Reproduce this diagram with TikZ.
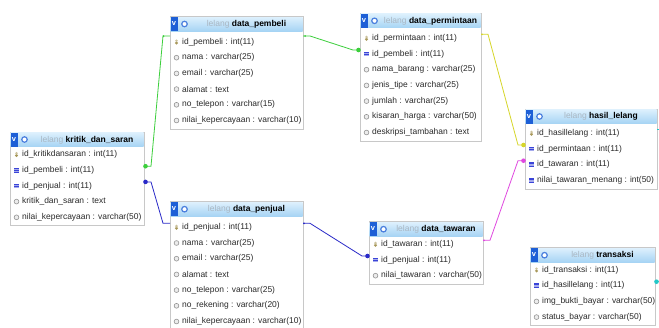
\documentclass[tikz,border=0pt]{standalone}
\usepackage{fontspec}
\setmainfont{Liberation Sans}
\usetikzlibrary{calc}
\definecolor{boxline}{HTML}{C8C8C8}
\definecolor{hdrtop}{HTML}{DDF0FD}
\definecolor{hdrbot}{HTML}{A6D4F4}
\definecolor{vblue}{HTML}{1D5FD6}
\definecolor{lelanggray}{HTML}{A9B6C2}
\definecolor{rowtxt}{HTML}{2A2A2A}
\definecolor{keyol}{HTML}{A8985A}
\definecolor{fkblue}{HTML}{3A44D8}
\definecolor{cgreen}{HTML}{3CCF3C}
\definecolor{cblue}{HTML}{2A2AC8}
\definecolor{cyellow}{HTML}{D6D62A}
\definecolor{cmagenta}{HTML}{E048E0}
\definecolor{ccyan}{HTML}{22C8C8}
\tikzset{
  rowtext/.style={anchor=west,inner sep=0pt,text=rowtxt,font=\fontsize{8.45}{9.5}\selectfont},
  hdrtext/.style={inner sep=0pt,text=black,font=\fontsize{8.5}{9.5}\selectfont},
  vtext/.style={inner sep=0pt,text=white,font=\bfseries\fontsize{7.5}{8}\selectfont},
  gear/.style={circle,draw=vblue!80,line width=1.2pt,fill=white,minimum size=5.5pt,inner sep=0pt},
  conn/.style={line width=0.8pt},
}
\newcommand\iconpk[2]{\fill[keyol] (#1,#2+0.9) circle (1.6);\fill[keyol!60!white] (#1,#2-1.2) circle (1.4);}
\newcommand\iconfk[2]{\fill[fkblue] (#1-2.3,#2-2.3) rectangle (#1+2.3,#2+2.3);\draw[fkblue!45!white,line width=0.35pt] (#1-2.3,#2-0.7) -- (#1+2.3,#2-0.7) (#1-2.3,#2+0.8) -- (#1+2.3,#2+0.8);}
\newcommand\iconcol[2]{\draw[gray!85,line width=0.6pt,fill=gray!15] (#1,#2) circle (2.4);}
% #1 id, #2 left, #3 right, #4 header top, #5 first row y, #6 nrows, #7 title, #8 rows
\newcommand\dbtab[8]{%
  \pgfmathsetmacro\tbbot{#5+(#6-1)*15.7+8.5}
  \draw[boxline,fill=white,line width=0.7pt] (#2,#4) rectangle (#3,\tbbot);
  \shade[top color=hdrtop,bottom color=hdrbot] (#2+0.5,#4+0.5) rectangle (#3-0.5,#4+14.5);
  \fill[vblue] (#2+0.5,#4+0.5) rectangle (#2+7.5,#4+14.5);
  \node[vtext] (#1-v) at (#2+4,#4+7.3) {v};
  \node[gear] (#1-g) at (#2+14.5,#4+7.5) {};
  \node[hdrtext] (#1-h) at ({(#2+#3)/2+10},#4+7.8) {\textcolor{lelanggray}{lelang} \textbf{#7}};
  \foreach \ic/\tx [count=\i] in {#8} {
    \pgfmathsetmacro\ry{#5+(\i-1)*15.7}
    \csname icon\ic\endcsname{#2+6.5}{\ry}
    \node[rowtext] (#1-\i) at (#2+12,\ry) {\tx};
    \coordinate (#1-\i-l) at (#2,\ry-4);
    \coordinate (#1-\i-r) at (#3,\ry-4);
  }
}
\begin{document}
\begin{tikzpicture}[x=1pt,y=-1pt]
\fill[white] (0,0) rectangle (659,327);
\useasboundingbox (0,0) rectangle (659,327);

\dbtab{ks}{10}{144}{132}{154.5}{5}{kritik\_dan\_saran}{pk/id\_kritikdansaran : int(11), fk/id\_pembeli : int(11), fk/id\_penjual : int(11), col/kritik\_dan\_saran : text, col/nilai\_kepercayaan : varchar(50)}

\dbtab{pb}{170}{303}{16.5}{42}{6}{data\_pembeli}{pk/id\_pembeli : int(11), col/nama : varchar(25), col/email : varchar(25), col/alamat : text, col/no\_telepon : varchar(15), col/nilai\_kepercayaan : varchar(10)}

\dbtab{pm}{360}{481}{13.3}{38.3}{7}{data\_permintaan}{pk/id\_permintaan : int(11), fk/id\_pembeli : int(11), col/nama\_barang : varchar(25), col/jenis\_tipe : varchar(25), col/jumlah : varchar(25), col/kisaran\_harga : varchar(50), col/deskripsi\_tambahan : text}

\dbtab{hl}{525}{657}{109}{133.3}{4}{hasil\_lelang}{pk/id\_hasillelang : int(11), fk/id\_permintaan : int(11), fk/id\_tawaran : int(11), fk/nilai\_tawaran\_menang : int(50)}

\dbtab{pj}{170}{303}{201.7}{227.3}{7}{data\_penjual}{pk/id\_penjual : int(11), col/nama : varchar(25), col/email : varchar(25), col/alamat : text, col/no\_telepon : varchar(25), col/no\_rekening : varchar(20), col/nilai\_kepercayaan : varchar(10)}

\dbtab{tw}{369}{483}{221.7}{244.3}{3}{data\_tawaran}{pk/id\_tawaran : int(11), fk/id\_penjual : int(11), col/nilai\_tawaran : varchar(50)}

\dbtab{tr}{530}{655}{247.7}{270}{4}{transaksi}{pk/id\_transaksi : int(11), fk/id\_hasillelang : int(11), col/img\_bukti\_bayar : varchar(50), col/status\_bayar : varchar(50)}

% connectors
\draw[conn,cgreen] (ks-2-r) -- ++(7,0) -- ($(pb-1-l)+(-7,-2)$) -- ($(pb-1-l)+(0,-2)$);
\fill[cgreen] ($(ks-2-r)+(1.5,0)$) circle (2.3);
\fill[cgreen] ($(pb-1-l)+(-6.5,-2)$) circle (1);

\draw[conn,cgreen] ($(pb-1-r)+(0,-2)$) -- ++(7,0) -- ($(pm-2-l)+(-7,0)$) -- (pm-2-l);
\fill[cgreen] ($(pb-1-r)+(2,-2)$) circle (1);
\fill[cgreen] ($(pm-2-l)+(-1.5,0)$) circle (2.3);

\draw[conn,cblue] (ks-3-r) -- ++(7,0) -- ($(pj-1-l)+(-7,0)$) -- (pj-1-l);
\fill[cblue] ($(ks-3-r)+(1.5,0)$) circle (2.3);

\draw[conn,cblue] (pj-1-r) -- ++(7,0) -- ($(tw-2-l)+(-7,0)$) -- (tw-2-l);
\fill[cblue] ($(pj-1-r)+(1,0)$) circle (1);
\fill[cblue] ($(tw-2-l)+(-1.5,0)$) circle (2.3);

\draw[conn,cyellow] (pm-1-r) -- ++(7,0) -- ($(hl-2-l)+(-7,0)$) -- (hl-2-l);
\fill[cyellow] ($(pm-1-r)+(1,0)$) circle (1);
\fill[cyellow] ($(hl-2-l)+(-1.5,0)$) circle (2.3);

\draw[conn,cmagenta] (tw-1-r) -- ++(7,0) -- ($(hl-3-l)+(-7,0)$) -- (hl-3-l);
\fill[cmagenta] ($(tw-1-r)+(1,0)$) circle (1);
\fill[cmagenta] ($(hl-3-l)+(-1.5,0)$) circle (2.3);

\draw[conn,ccyan] (hl-1-r) -- ++(9,0) -- ($(tr-2-r)+(11,0)$) -- (tr-2-r);
\fill[ccyan] ($(tr-2-r)+(1.5,0)$) circle (2.3);
\end{tikzpicture}
\end{document}
